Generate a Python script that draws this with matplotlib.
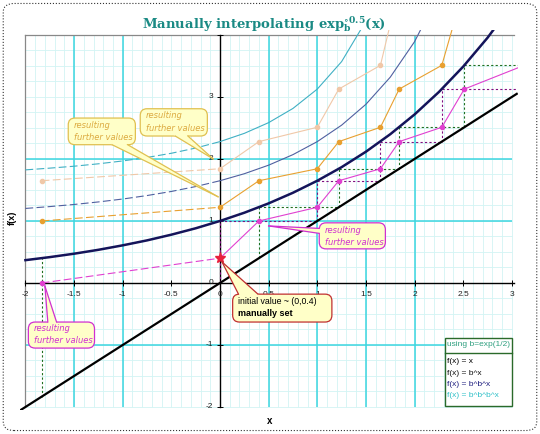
import matplotlib
matplotlib.use("Agg")
import matplotlib.pyplot as plt
from matplotlib.patches import FancyBboxPatch, Polygon

# sample points of the smooth curves, b = exp(1/2)
curve_x = [-2.0, -1.75, -1.5, -1.25, -1.0, -0.75, -0.5, -0.25, 0.0, 0.25, 0.5,
           0.75, 1.0, 1.25, 1.5, 1.75, 2.0, 2.25, 2.5, 2.75, 3.0]
b_x = [0.368, 0.417, 0.472, 0.535, 0.607, 0.687, 0.779, 0.882, 1.0, 1.133, 1.284,
       1.455, 1.649, 1.868, 2.117, 2.399, 2.718, 3.080, 3.490, 3.955, 4.482]
b_b_x = [1.202, 1.232, 1.266, 1.307, 1.354, 1.410, 1.476, 1.555, 1.649, 1.762, 1.900,
         2.070, 2.280, 2.545, 2.882, 3.319, 3.892, 4.665]
b_b_b_x = [1.824, 1.852, 1.883, 1.922, 1.968, 2.024, 2.092, 2.176, 2.280, 2.413, 2.586,
           2.815, 3.127, 3.570, 4.225]
identity_x = [-2.05, 3.05]

# the interpolation points x0, x1=h(x0), x2=h(x1), ...  (x1 = 0 -> 0.4 set by hand)
seq = [-1.833, 0.0, 0.4, 1.0, 1.221, 1.649, 1.842, 2.280, 2.511, 3.127, 3.510, 4.776]
initial_point = (0.0, 0.4)

x_ticks = [-2, -1.5, -1, -0.5, 0, 0.5, 1, 1.5, 2, 2.5, 3]
x_tick_labels = ["-2", "-1.5", "-1", "-0.5", "0", "0.5", "1", "1.5", "2", "2.5", "3"]
y_ticks = [-2, -1, 0, 1, 2, 3]
y_tick_labels = ["-2", "-1", "0", "1", "2", "3"]

legend_title = "using b=exp(1/2)"
legend_entries = ["f(x) = x", "f(x) = b^x", "f(x) = b^b^x", "f(x) = b^b^b^x"]
legend_colors = ["black", "#111111", "#202080", "#30c0c8"]

TICK_FONT = "Liberation Sans"


def split_plot(ax, xs, ys, color, lw, split, z=3):
    # left of x=0 the thin lines are drawn with long dashes
    ax.plot(xs[:split + 1], ys[:split + 1], color=color, lw=lw, dashes=(7, 3), zorder=z)
    ax.plot(xs[split:], ys[split:], color=color, lw=lw, zorder=z)


def callout(ax, box, tip, base, lines, edge, face="#ffffc8", z=8):
    x0, x1, y0, y1 = box
    ax.add_patch(FancyBboxPatch((x0, y0), x1 - x0, y1 - y0,
                                boxstyle="round,pad=0,rounding_size=0.07",
                                mutation_aspect=1.57, fc=face, ec=edge, lw=0.9, zorder=z))
    # wedge: filled part pushed a bit into the box so the box edge is hidden
    inner = []
    for bx, by in base:
        inner.append((bx + 0.08 * (bx - tip[0]), by + 0.08 * (by - tip[1])))
    ax.add_patch(Polygon([tip] + inner, closed=True, fc=face, ec="none", zorder=z + 0.1))
    for bx, by in base:
        ax.plot([tip[0], bx], [tip[1], by], color=edge, lw=0.9, zorder=z + 0.2)
    for tx, ty, s, kw in lines:
        ax.text(tx, ty, s, zorder=z + 0.3, va="center", ha="left", **kw)


fig = plt.figure(figsize=(5.4, 4.34), dpi=100)
ax = fig.add_axes([0.0363, 0.0551, 0.9224, 0.8758])
ax.set_xlim(-2.06, 3.06)
ax.set_ylim(-2.05, 4.08)
ax.axis("off")

# grid
minor_x = [i / 10 for i in range(-20, 31)]
minor_y = [i / 4 for i in range(-8, 17)]
ax.vlines(minor_x, -2, 4, color="#d2f4f4", lw=0.6, zorder=0)
ax.hlines(minor_y, -2, 3, color="#d2f4f4", lw=0.6, zorder=0)
ax.vlines([-1.5, -1, 0.5, 1, 1.5, 2], -2, 4, color="#3cd6e0", lw=1.1, zorder=1)
ax.hlines([-1, 1, 2], -2, 3, color="#3cd6e0", lw=1.1, zorder=1)

# frame and axes
ax.plot([-2, 3.02], [4, 4], color="#888888", lw=0.9, zorder=2)
ax.plot([-2, -2], [-2, 4], color="#888888", lw=0.9, zorder=2)
ax.plot([-2, 3.02], [0, 0], color="black", lw=1.0, zorder=2)
ax.plot([0, 0], [-2, 4], color="black", lw=1.0, zorder=2)
ax.plot(x_ticks, [0] * len(x_ticks), ls="none", marker="|", ms=4, mew=0.7, color="black", zorder=2)
ax.plot([0] * 7, y_ticks + [4], ls="none", marker="_", ms=4, mew=0.7, color="black", zorder=2)
for xv, lab in zip(x_ticks, x_tick_labels):
    ax.text(xv, -0.19, lab, ha="center", va="center", fontsize=6, family=TICK_FONT,
            color="#222222", zorder=2)
for yv, lab in zip(y_ticks, y_tick_labels):
    ax.text(-0.07, yv, lab, ha="right", va="center", fontsize=6, family=TICK_FONT,
            color="#222222", zorder=2)

# construction staircase between b^x and the diagonal
for k in range(0, len(seq) - 3):
    col = "#207020" if k % 2 == 0 else "#801080"
    xk, top = seq[k], seq[k + 2]
    ax.plot([xk, xk], [xk, top], color=col, lw=0.8, dashes=(2, 2), zorder=2.5)
    if k > 0:
        ax.plot([xk, top], [top, top], color=col, lw=0.8, dashes=(2, 2), zorder=2.5)

# curves
ax.plot(identity_x, identity_x, color="black", lw=1.6, zorder=3)
ax.plot(curve_x, b_x, color="#14145a", lw=1.8, zorder=3)
split_plot(ax, curve_x[:len(b_b_x)], b_b_x, "#5060a0", 0.8, 8)
split_plot(ax, curve_x[:len(b_b_b_x)], b_b_b_x, "#40b0c4", 0.8, 8)

# interpolated series: (x_k, x_k+1), (x_k, x_k+3), (x_k, x_k+5)
series = [(1, "#e040d0"), (3, "#e8a030"), (5, "#f0c8a8")]
for shift, col in series:
    xs = seq[:-shift]
    ys = seq[shift:]
    split_plot(ax, xs, ys, col, 0.8, 1, z=4)
    if shift == 1:
        mx = [x for x in xs if x != initial_point[0]]
        my = [y for x, y in zip(xs, ys) if x != initial_point[0]]
    else:
        mx, my = xs, ys
    ax.plot(mx, my, ls="none", marker="o", ms=3, color=col, zorder=5)
ax.plot(*initial_point, ls="none", marker="*", ms=8, color="#e8203c", zorder=5)

# callouts
yel_txt = dict(fontsize=6, style="italic", color="#dcaa40", family="DejaVu Sans")
mag_txt = dict(fontsize=6, style="italic", color="#d030d0", family="DejaVu Sans")
callout(ax, (-1.56, -0.87, 2.23, 2.66), (-0.02, 1.39), [(-1.11, 2.23), (-0.95, 2.23)],
        [(-1.50, 2.54, "resulting", yel_txt), (-1.50, 2.34, "further values", yel_txt)],
        "#e0c050")
callout(ax, (-0.82, -0.13, 2.37, 2.81), (-0.07, 2.0), [(-0.46, 2.37), (-0.33, 2.37)],
        [(-0.76, 2.70, "resulting", yel_txt), (-0.76, 2.49, "further values", yel_txt)],
        "#e0c050")
callout(ax, (1.02, 1.70, 0.55, 0.97), (0.50, 0.92), [(1.02, 0.88), (1.02, 0.80)],
        [(1.08, 0.85, "resulting", mag_txt), (1.08, 0.66, "further values", mag_txt)],
        "#d030d0")
callout(ax, (-1.97, -1.29, -1.05, -0.63), (-1.80, -0.05), [(-1.77, -0.63), (-1.68, -0.63)],
        [(-1.91, -0.74, "resulting", mag_txt), (-1.91, -0.93, "further values", mag_txt)],
        "#d030d0")
callout(ax, (0.13, 1.15, -0.63, -0.18), (0.02, 0.34), [(0.19, -0.18), (0.39, -0.18)],
        [(0.18, -0.30, "initial value ~ (0,0.4)", dict(fontsize=6.3, family=TICK_FONT, color="black")),
         (0.18, -0.50, "manually set", dict(fontsize=6.5, family=TICK_FONT, color="black",
                                             weight="bold"))],
        "#c03030")

# legend box
ax.add_patch(plt.Rectangle((2.31, -1.984), 0.69, 1.097, fc="white", ec="#2a6a2a", lw=1.0, zorder=8))
ax.plot([2.31, 3.0], [-1.129, -1.129], color="#2a6a2a", lw=1.0, zorder=8.1)
ax.text(2.335, -1.0, legend_title, fontsize=6, family=TICK_FONT, color="#30a080",
        va="center", zorder=8.2)
for i, (lab, col) in enumerate(zip(legend_entries, legend_colors)):
    ax.text(2.335, -1.274 - 0.178 * i, lab, fontsize=6, family=TICK_FONT, color=col,
            va="center", zorder=8.2)

# title, axis labels, outer dotted border
plt.rcParams["mathtext.fontset"] = "dejavuserif"
fig.text(0.489, 0.945, r"Manually interpolating exp$_\mathbf{b}^{\circ\mathbf{0.5}}$(x)",
         ha="center", va="center", fontsize=9.5, weight="bold", family="DejaVu Serif",
         color="#1a8a84")
fig.text(270 / 540, 1 - 421 / 434, "x", ha="center", va="center", fontsize=7, weight="bold",
         family=TICK_FONT)
fig.text(12 / 540, 1 - 218 / 434, "f(x)", ha="center", va="center", fontsize=6.5,
         weight="bold", rotation=90, family=TICK_FONT)
fig.patches.append(FancyBboxPatch((0.006, 0.008), 0.988, 0.984,
                                  boxstyle="round,pad=0,rounding_size=0.02",
                                  transform=fig.transFigure, fill=False, ls=":", lw=0.8,
                                  ec="#333333"))

fig.savefig("out.png", dpi=100)
